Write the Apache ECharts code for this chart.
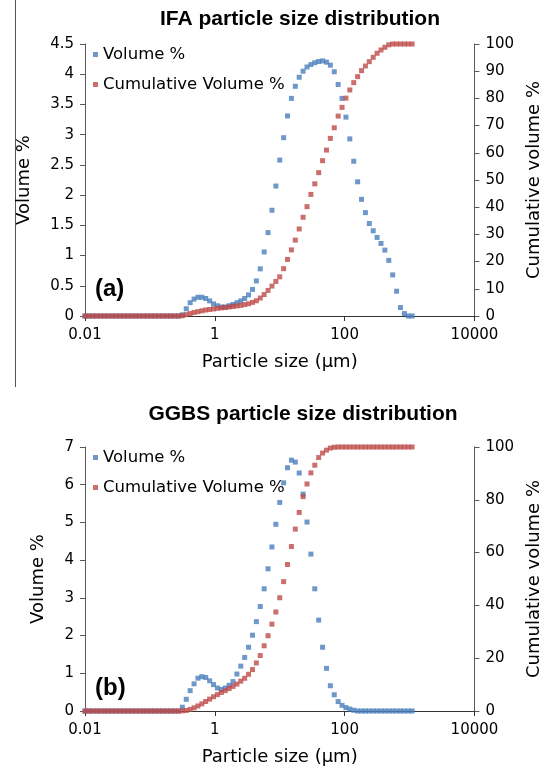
<!DOCTYPE html>
<html>
<head>
<meta charset="utf-8">
<title>Particle size distribution</title>
<script src="https://cdn.jsdelivr.net/npm/echarts@6/dist/echarts.min.js"></script>
<style>
  html, body { margin: 0; padding: 0; background: #fff; }
  #chart { width: 551px; height: 767px; }
</style>
</head>
<body>
<div id="chart"></div>
<script>
// size classes (µm), same for both samples
const sizes = [
  0.01, 0.01148, 0.01318, 0.01514, 0.01738, 0.01995, 0.02291, 0.0263, 0.0302, 0.03467,
  0.03981, 0.04571, 0.05248, 0.06026, 0.06918, 0.07943, 0.0912, 0.1047, 0.1202, 0.138,
  0.1585, 0.182, 0.2089, 0.2399, 0.2754, 0.3162, 0.3631, 0.4169, 0.4786, 0.5495,
  0.631, 0.7244, 0.8318, 0.955, 1.096, 1.259, 1.445, 1.66, 1.905, 2.188,
  2.512, 2.884, 3.311, 3.802, 4.365, 5.012, 5.754, 6.607, 7.586, 8.71,
  10, 11.48, 13.18, 15.14, 17.38, 19.95, 22.91, 26.3, 30.2, 34.67,
  39.81, 45.71, 52.48, 60.26, 69.18, 79.43, 91.2, 104.7, 120.2, 138,
  158.5, 182, 208.9, 239.9, 275.4, 316.2, 363.1, 416.9, 478.6, 549.5,
  631, 724.4, 831.8, 955, 1096
];

// (a) IFA
const ifaVolume = [
  0, 0, 0, 0, 0, 0, 0, 0, 0, 0,
  0, 0, 0, 0, 0, 0, 0, 0, 0, 0,
  0, 0, 0, 0, 0, 0.02, 0.12, 0.22, 0.28, 0.31,
  0.31, 0.29, 0.25, 0.20, 0.17, 0.15, 0.15, 0.17, 0.19, 0.22,
  0.25, 0.29, 0.35, 0.44, 0.58, 0.78, 1.06, 1.38, 1.75, 2.15,
  2.58, 2.95, 3.31, 3.60, 3.80, 3.95, 4.05, 4.12, 4.16, 4.19,
  4.21, 4.22, 4.20, 4.15, 4.04, 3.83, 3.60, 3.29, 2.93, 2.56,
  2.22, 1.93, 1.71, 1.53, 1.41, 1.30, 1.20, 1.09, 0.92, 0.68,
  0.41, 0.14, 0.04, 0, 0
];
const ifaCumulative = [
  0, 0, 0, 0, 0, 0, 0, 0, 0, 0,
  0, 0, 0, 0, 0, 0, 0, 0, 0, 0,
  0, 0, 0, 0, 0, 0.1, 0.5, 0.9, 1.3, 1.6,
  1.9, 2.2, 2.4, 2.6, 2.8, 3.0, 3.1, 3.3, 3.5, 3.7,
  3.9, 4.2, 4.5, 5.0, 5.6, 6.6, 7.9, 9.4, 11.0, 12.7,
  14.4, 17.4, 20.8, 24.3, 27.9, 32.0, 36.3, 40.2, 44.7, 48.6,
  52.7, 57.1, 61.0, 65.3, 69.2, 73.5, 76.7, 80.1, 83.1, 85.8,
  88.0, 90.2, 91.9, 93.5, 95.1, 96.6, 97.8, 98.8, 99.7, 100,
  100, 100, 100, 100, 100
];

// (b) GGBS
const ggbsVolume = [
  0, 0, 0, 0, 0, 0, 0, 0, 0, 0,
  0, 0, 0, 0, 0, 0, 0, 0, 0, 0,
  0, 0, 0, 0, 0, 0.10, 0.31, 0.54, 0.72, 0.87,
  0.91, 0.89, 0.80, 0.70, 0.61, 0.57, 0.61, 0.68, 0.78, 0.98,
  1.19, 1.42, 1.69, 2.01, 2.37, 2.77, 3.24, 3.77, 4.35, 4.95,
  5.53, 6.05, 6.45, 6.65, 6.60, 6.31, 5.75, 5.01, 4.16, 3.24,
  2.41, 1.69, 1.13, 0.67, 0.43, 0.25, 0.15, 0.09, 0.05, 0.02,
  0, 0, 0, 0, 0, 0, 0, 0, 0, 0,
  0, 0, 0, 0, 0
];
const ggbsCumulative = [
  0, 0, 0, 0, 0, 0, 0, 0, 0, 0,
  0, 0, 0, 0, 0, 0, 0, 0, 0, 0,
  0, 0, 0, 0, 0, 0.05, 0.2, 0.6, 1.2, 1.9,
  2.7, 3.6, 4.5, 5.4, 6.2, 7.0, 7.7, 8.5, 9.3, 10.2,
  11.3, 12.4, 13.9, 15.7, 18.2, 21.0, 24.7, 28.5, 32.9, 37.5,
  42.9, 49.0, 55.5, 62.3, 68.9, 75.2, 81.2, 86.0, 90.2, 93.1,
  96.0, 97.7, 98.8, 99.6, 99.9, 100, 100, 100, 100, 100,
  100, 100, 100, 100, 100, 100, 100, 100, 100, 100,
  100, 100, 100, 100, 100
];

const seriesNames = ['Volume %', 'Cumulative Volume %'];
const titles = ['IFA particle size distribution', 'GGBS particle size distribution'];
const panelTags = ['(a)', '(b)'];
const volumeMax = [4.5, 7];
const volumeStep = [0.5, 1];
const cumulativeStep = [10, 20];

const FONT = 'DejaVu Sans';
const BLUE = '#4a7ebb';
const RED = '#be4b48';

const pairs = (ys) => sizes.map((s, i) => [s, ys[i]]);

// grid tops / heights in px
const gridTop = [44, 447];
const gridHeight = [272, 265];
const leftNameGap = [52, 38];

const xAxes = [0, 1].map((g) => ({
  type: 'log',
  logBase: 100,
  gridIndex: g,
  min: 0.01,
  max: 10000,
  name: 'Particle size (µm)',
  nameLocation: 'middle',
  nameGap: 37,
  nameTextStyle: { fontFamily: FONT, fontSize: 18, color: '#000' },
  axisLine: { lineStyle: { color: '#333', width: 1 } },
  axisTick: { show: true, length: 5, lineStyle: { color: '#333' } },
  minorTick: { show: false },
  splitLine: { show: false },
  axisLabel: {
    fontFamily: FONT, fontSize: 15, color: '#000', margin: 12,
    formatter: (v) => String(Number(v.toPrecision(6)))
  }
}));

const yAxes = [];
[0, 1].forEach((g) => {
  yAxes.push({
    type: 'value',
    gridIndex: g,
    position: 'left',
    min: 0,
    max: volumeMax[g],
    interval: volumeStep[g],
    name: 'Volume %',
    nameLocation: 'middle',
    nameGap: leftNameGap[g],
    nameTextStyle: { fontFamily: FONT, fontSize: 18, color: '#000' },
    axisLine: { show: true, lineStyle: { color: '#595959' } },
    axisTick: { show: true, length: 5, lineStyle: { color: '#595959' } },
    splitLine: { show: false },
    axisLabel: { fontFamily: FONT, fontSize: 15, color: '#000', margin: 11 }
  });
  yAxes.push({
    type: 'value',
    gridIndex: g,
    position: 'right',
    min: 0,
    max: 100,
    interval: cumulativeStep[g],
    name: 'Cumulative volume %',
    nameLocation: 'middle',
    nameGap: 48,
    nameTextStyle: { fontFamily: FONT, fontSize: 18, color: '#000' },
    axisLine: { show: true, lineStyle: { color: '#595959' } },
    axisTick: { show: true, length: 5, lineStyle: { color: '#595959' } },
    splitLine: { show: false },
    axisLabel: { fontFamily: FONT, fontSize: 15, color: '#000', margin: 11 }
  });
});

const scatter = (name, g, yIdx, color, ys) => ({
  name: name,
  type: 'scatter',
  xAxisIndex: g,
  yAxisIndex: yIdx,
  symbol: 'rect',
  symbolSize: 5,
  itemStyle: { color: color },
  data: pairs(ys)
});

const option = {
  animation: false,
  backgroundColor: '#fff',
  title: [0, 1].map((g) => ({
    text: titles[g],
    left: g === 0 ? 295 : 298,
    top: g === 0 ? 4 : 399,
    textAlign: 'center',
    textStyle: { fontFamily: 'Liberation Sans', fontWeight: 'bold', fontSize: 21, color: '#000' }
  })),
  legend: [0, 1].map((g) => ({
    data: seriesNames,
    orient: 'vertical',
    left: 88,
    top: g === 0 ? 41 : 444,
    icon: 'rect',
    itemWidth: 5,
    itemHeight: 5,
    itemGap: 13,
    textStyle: { fontFamily: FONT, fontSize: 16.5, color: '#000' }
  })),
  grid: [0, 1].map((g) => ({
    left: 85,
    right: 72,
    top: gridTop[g],
    height: gridHeight[g]
  })),
  xAxis: xAxes,
  yAxis: yAxes,
  series: [
    scatter(seriesNames[0], 0, 0, BLUE, ifaVolume),
    scatter(seriesNames[1], 0, 1, RED, ifaCumulative),
    scatter(seriesNames[0], 1, 2, BLUE, ggbsVolume),
    scatter(seriesNames[1], 1, 3, RED, ggbsCumulative)
  ],
  graphic: [
    // page border line at the left of the top panel
    { type: 'line', shape: { x1: 15.5, y1: 0, x2: 15.5, y2: 387 }, style: { stroke: '#555', lineWidth: 1 } },
    { type: 'text', left: 95, top: 277, style: { text: panelTags[0], fontFamily: 'Liberation Sans', fontWeight: 'bold', fontSize: 24, fill: '#000' } },
    { type: 'text', left: 95, top: 676, style: { text: panelTags[1], fontFamily: 'Liberation Sans', fontWeight: 'bold', fontSize: 24, fill: '#000' } }
  ]
};

const myChart = echarts.init(document.getElementById('chart'));
myChart.setOption(option);
</script>
</body>
</html>
